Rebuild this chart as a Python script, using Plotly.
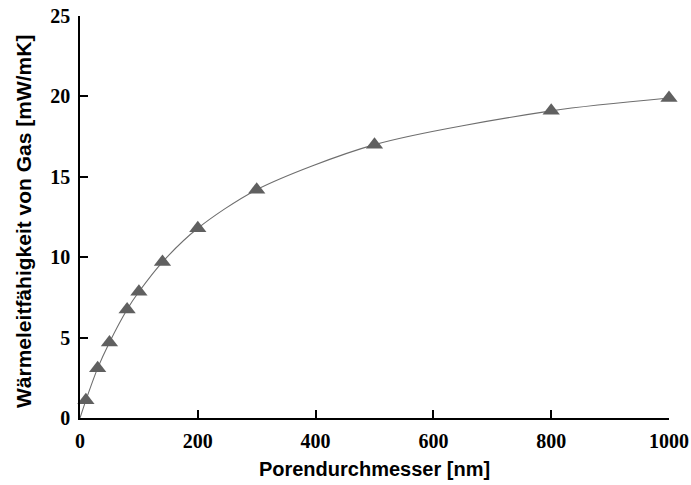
import plotly.graph_objects as go

# Data
pore_diameter_nm = [10, 30, 50, 80, 100, 140, 200, 300, 500, 800, 1000]
gas_conductivity = [1.1, 3.1, 4.7, 6.75, 7.85, 9.7, 11.8, 14.2, 17.0, 19.1, 19.9]
curve_x = [0] + pore_diameter_nm
curve_y = [0] + gas_conductivity

x_ticks = [0, 200, 400, 600, 800, 1000]
y_ticks = [0, 5, 10, 15, 20, 25]

x_title = "Porendurchmesser [nm]"
y_title = "Wärmeleitfähigkeit von Gas [mW/mK]"

fig = go.Figure()
fig.add_trace(go.Scatter(
    x=curve_x, y=curve_y, mode="lines",
    line=dict(color="#6e6e6e", width=1.1, shape="spline", smoothing=0.8),
    hoverinfo="skip", showlegend=False,
))
fig.add_trace(go.Scatter(
    x=pore_diameter_nm, y=gas_conductivity, mode="markers",
    marker=dict(symbol="triangle-up", size=15, color="#606060", line=dict(width=0)),
    showlegend=False, cliponaxis=False,
))

tick_font = dict(family="Liberation Serif, Times New Roman, serif", size=20, color="black")
xtitle_font = dict(family="Liberation Sans, Arial, sans-serif", size=20, color="black")
ytitle_font = dict(family="Liberation Sans, Arial, sans-serif", size=21, color="black")

fig.update_layout(
    width=691, height=485,
    margin=dict(l=80, r=22, t=16, b=67, autoexpand=False),
    paper_bgcolor="white", plot_bgcolor="white",
    xaxis=dict(
        range=[0, 1000], tickvals=x_ticks, ticktext=[f"<b>{v}</b>" for v in x_ticks],
        ticks="inside", ticklen=8, tickwidth=1.5, tickcolor="black",
        showline=True, linecolor="black", linewidth=1.5, showgrid=False, zeroline=False,
        tickfont=tick_font, automargin=False, ticklabeloverflow="allow",
        ticklabelstandoff=4,
        title=dict(text=f"<b>{x_title}</b>", font=xtitle_font, standoff=11),
    ),
    yaxis=dict(
        range=[0, 25], tickvals=y_ticks, ticktext=[f"<b>{v}</b>" for v in y_ticks],
        ticks="inside", ticklen=8, tickwidth=1.5, tickcolor="black",
        showline=True, linecolor="black", linewidth=1.5, showgrid=False, zeroline=False,
        tickfont=tick_font, automargin=False, ticklabeloverflow="allow",
        ticklabelstandoff=4,
    ),
    annotations=[dict(
        text=f"<b>{y_title}</b>", font=ytitle_font, textangle=-90,
        xref="paper", yref="paper", x=0, y=0.4876, xshift=-56,
        xanchor="center", yanchor="middle", showarrow=False,
    )],
)

fig.write_html(
    "out.html",
    config={"displayModeBar": False},
    post_script="document.body.style.margin='0';document.body.style.overflow='hidden';",
)
